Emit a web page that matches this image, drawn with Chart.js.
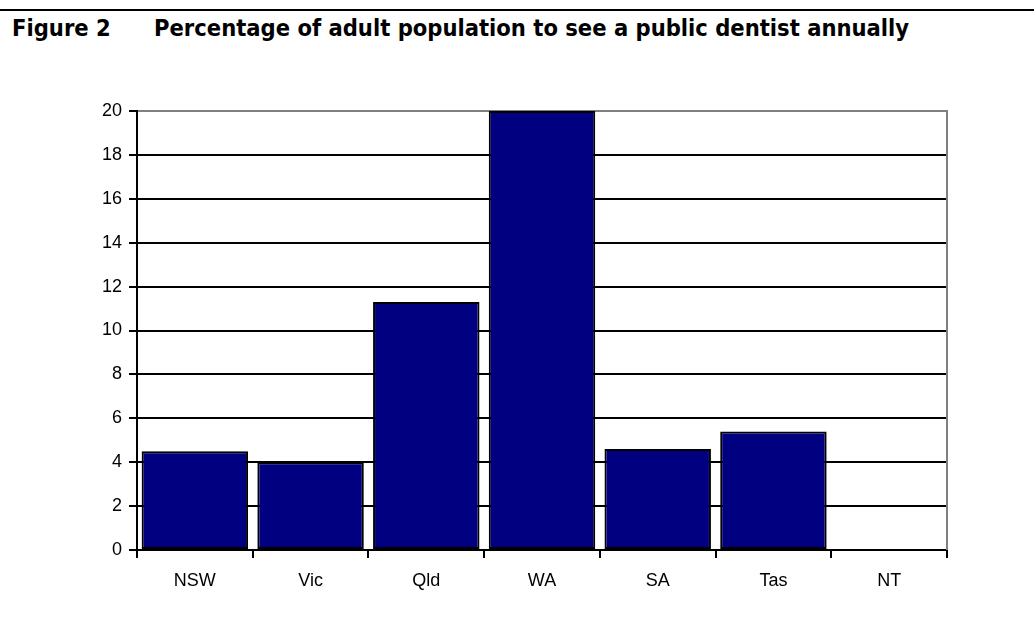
<!DOCTYPE html>
<html>
<head>
<meta charset="utf-8">
<script src="https://cdn.jsdelivr.net/npm/chart.js@4"></script>
<style>
    html, body { margin: 0; padding: 0; background: #fff; }
    #wrap { position: relative; width: 1034px; height: 628px; overflow: hidden; }
    #rule { position: absolute; left: 0; top: 9px; width: 1034px; height: 2px; background: #000; }
    .title { position: absolute; top: 14px; font: bold 23.5px "DejaVu Sans Condensed", "DejaVu Sans", sans-serif; color: #000; white-space: nowrap; }
    #figNo { left: 12px; }
    #figText { left: 154px; }
    #chart { position: absolute; left: 0; top: 0; }
</style>
</head>
<body>
<div id="wrap">
    <div id="rule"></div>
    <div class="title" id="figNo">Figure 2</div>
    <div class="title" id="figText">Percentage of adult population to see a public dentist annually</div>
    <canvas id="chart" width="1034" height="628"></canvas>
</div>

<script>
/* =========================
   DATA
========================= */

const states = ["NSW", "Vic", "Qld", "WA", "SA", "Tas", "NT"];
const adultPct = [4.5, 4.0, 11.3, 20, 4.6, 5.4, 0];
const yTicks = [0, 2, 4, 6, 8, 10, 12, 14, 16, 18, 20];

/* =========================
   PLOT FRAME (right edge)
========================= */

const frameRight = {
    id: "frameRight",
    afterDraw(chart) {
        const a = chart.chartArea;
        const c = chart.ctx;
        c.save();
        c.strokeStyle = "#808080";
        c.lineWidth = 2;
        c.beginPath();
        c.moveTo(a.right, a.top - 1);
        c.lineTo(a.right, a.bottom);
        c.stroke();
        c.restore();
    }
};

/* =========================
   CHART
========================= */

const tickFont = { family: "'Liberation Sans', Arial, sans-serif", size: 18 };

new Chart(document.getElementById("chart"), {
    type: "bar",
    data: {
        labels: states,
        datasets: [{
            data: adultPct,
            backgroundColor: "#000080",
            borderColor: "#000",
            borderWidth: 2,
            borderSkipped: false,
            barPercentage: 0.92,
            categoryPercentage: 1.0
        }]
    },
    options: {
        responsive: false,
        animation: false,
        layout: { padding: { top: 111, right: 87, bottom: 28, left: 0 } },
        plugins: {
            legend: { display: false },
            tooltip: { enabled: false }
        },
        scales: {
            x: {
                offset: true,
                grid: {
                    offset: true,
                    drawOnChartArea: false,
                    drawTicks: true,
                    tickLength: 8,
                    tickColor: "#000",
                    lineWidth: 2
                },
                border: { color: "#000", width: 2 },
                ticks: { color: "#000", padding: 12, font: tickFont },
                afterFit(scale) { scale.height = 50; }
            },
            y: {
                min: 0,
                max: 20,
                afterBuildTicks(scale) {
                    scale.ticks = yTicks.map(v => ({ value: v }));
                },
                grid: {
                    color: ctx => (ctx.tick && ctx.tick.value === 20) ? "#808080" : "#000",
                    lineWidth: 2,
                    tickLength: 8,
                    tickColor: "#000"
                },
                border: { color: "#000", width: 2 },
                ticks: { color: "#000", padding: 7, font: tickFont },
                afterFit(scale) { scale.width = 137; }
            }
        }
    },
    plugins: [frameRight]
});
</script>
</body>
</html>
